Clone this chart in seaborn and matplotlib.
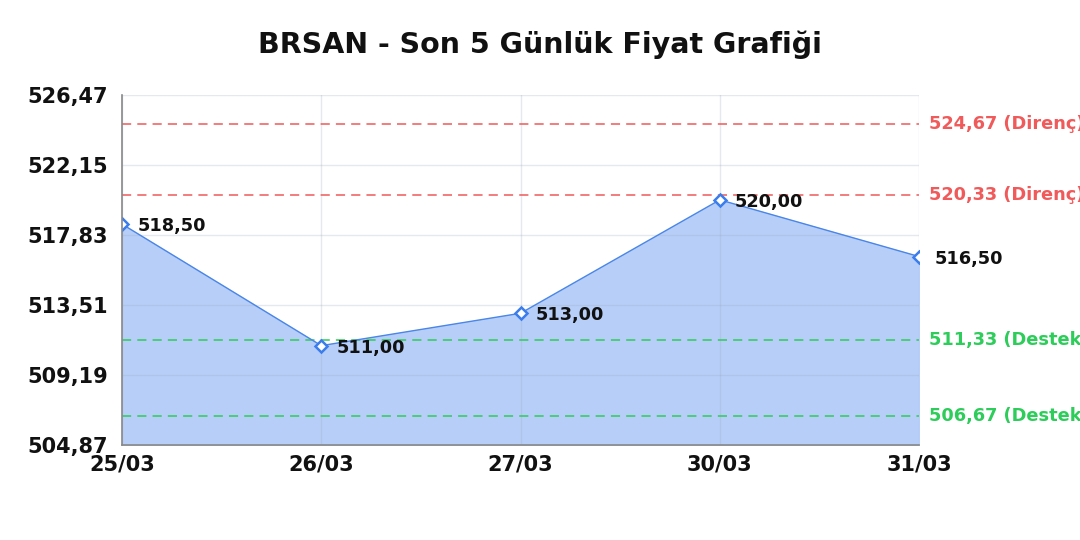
import numpy as np
import pandas as pd
import matplotlib
matplotlib.use("Agg")
import matplotlib.pyplot as plt
import seaborn as sns

# veri
dates = ["25/03", "26/03", "27/03", "30/03", "31/03"]
prices = [518.50, 511.00, 513.00, 520.00, 516.50]
resistance = [524.67, 520.33]
support = [511.33, 506.67]
y_min, y_max = 504.87, 526.47
y_ticks = [504.87, 509.19, 513.51, 517.83, 522.15, 526.47]

sns.set_theme(style="white")
plt.rcParams['font.family'] = ['DejaVu Sans']

df = pd.DataFrame({"pos": range(len(dates)), "price": prices})


def tr(v):
    return f"{v:.2f}".replace(".", ",")


fig = plt.figure(figsize=(10.8, 5.4), dpi=100)
ax = fig.add_axes([0.113, 0.176, 0.738, 0.648])

ax.fill_between(df["pos"], df["price"], y_min, color="#b7cff8", zorder=1)
sns.lineplot(data=df, x="pos", y="price", ax=ax, color="#4a86e8", linewidth=1,
             marker="D", markersize=6.5, markerfacecolor="white",
             markeredgecolor="#3b7ded", markeredgewidth=1.8, zorder=4)

# grid
for yt in y_ticks:
    ax.axhline(yt, color="#9aa6b8", alpha=0.25, linewidth=1, zorder=2)
for i in range(len(dates)):
    ax.axvline(i, color="#9aa6b8", alpha=0.25, linewidth=1, zorder=2)

# direnç / destek çizgileri
for r in resistance:
    ax.axhline(r, color="#f05a5a", linestyle=(0, (6, 4)), linewidth=1.1, zorder=3)
    ax.annotate(f"{tr(r)} (Direnç)", (len(dates) - 1, r), textcoords="offset points",
                xytext=(7.5, 0), color="#f05a5a", fontsize=12.8, fontweight="bold",
                va="center", ha="left", annotation_clip=False)
for s in support:
    ax.axhline(s, color="#2ecc5a", linestyle=(0, (6, 4)), linewidth=1.1, zorder=3)
    ax.annotate(f"{tr(s)} (Destek)", (len(dates) - 1, s), textcoords="offset points",
                xytext=(7.5, 0), color="#2ecc5a", fontsize=12.8, fontweight="bold",
                va="center", ha="left", annotation_clip=False)

# veri etiketleri
for i, p in enumerate(prices):
    ax.annotate(tr(p), (i, p), textcoords="offset points", xytext=(11, -1.5),
                ha="left", va="center", fontsize=12.8, fontweight="bold",
                color="#111111", zorder=5)

ax.set_xlim(0, len(dates) - 1)
ax.set_ylim(y_min, y_max)
ax.set_xticks(range(len(dates)))
ax.set_xticklabels(dates)
ax.set_yticks(y_ticks)
ax.set_yticklabels([tr(v) for v in y_ticks])
ax.tick_params(axis="both", labelsize=15, length=0)
ax.tick_params(axis="y", pad=10)
ax.tick_params(axis="x", pad=7)
for lbl in ax.get_xticklabels() + ax.get_yticklabels():
    lbl.set_fontweight("bold")
    lbl.set_color("#111111")
ax.set_xlabel("")
ax.set_ylabel("")

for side in ["top", "right"]:
    ax.spines[side].set_visible(False)
for side in ["left", "bottom"]:
    ax.spines[side].set_color("#888888")
    ax.spines[side].set_linewidth(1.2)
    ax.spines[side].set_zorder(6)

fig.text(0.5, 0.918, "BRSAN - Son 5 Günlük Fiyat Grafiği", ha="center", va="center",
         fontsize=20.5, fontweight="bold", color="#111111")

fig.savefig("out.png", dpi=100)
